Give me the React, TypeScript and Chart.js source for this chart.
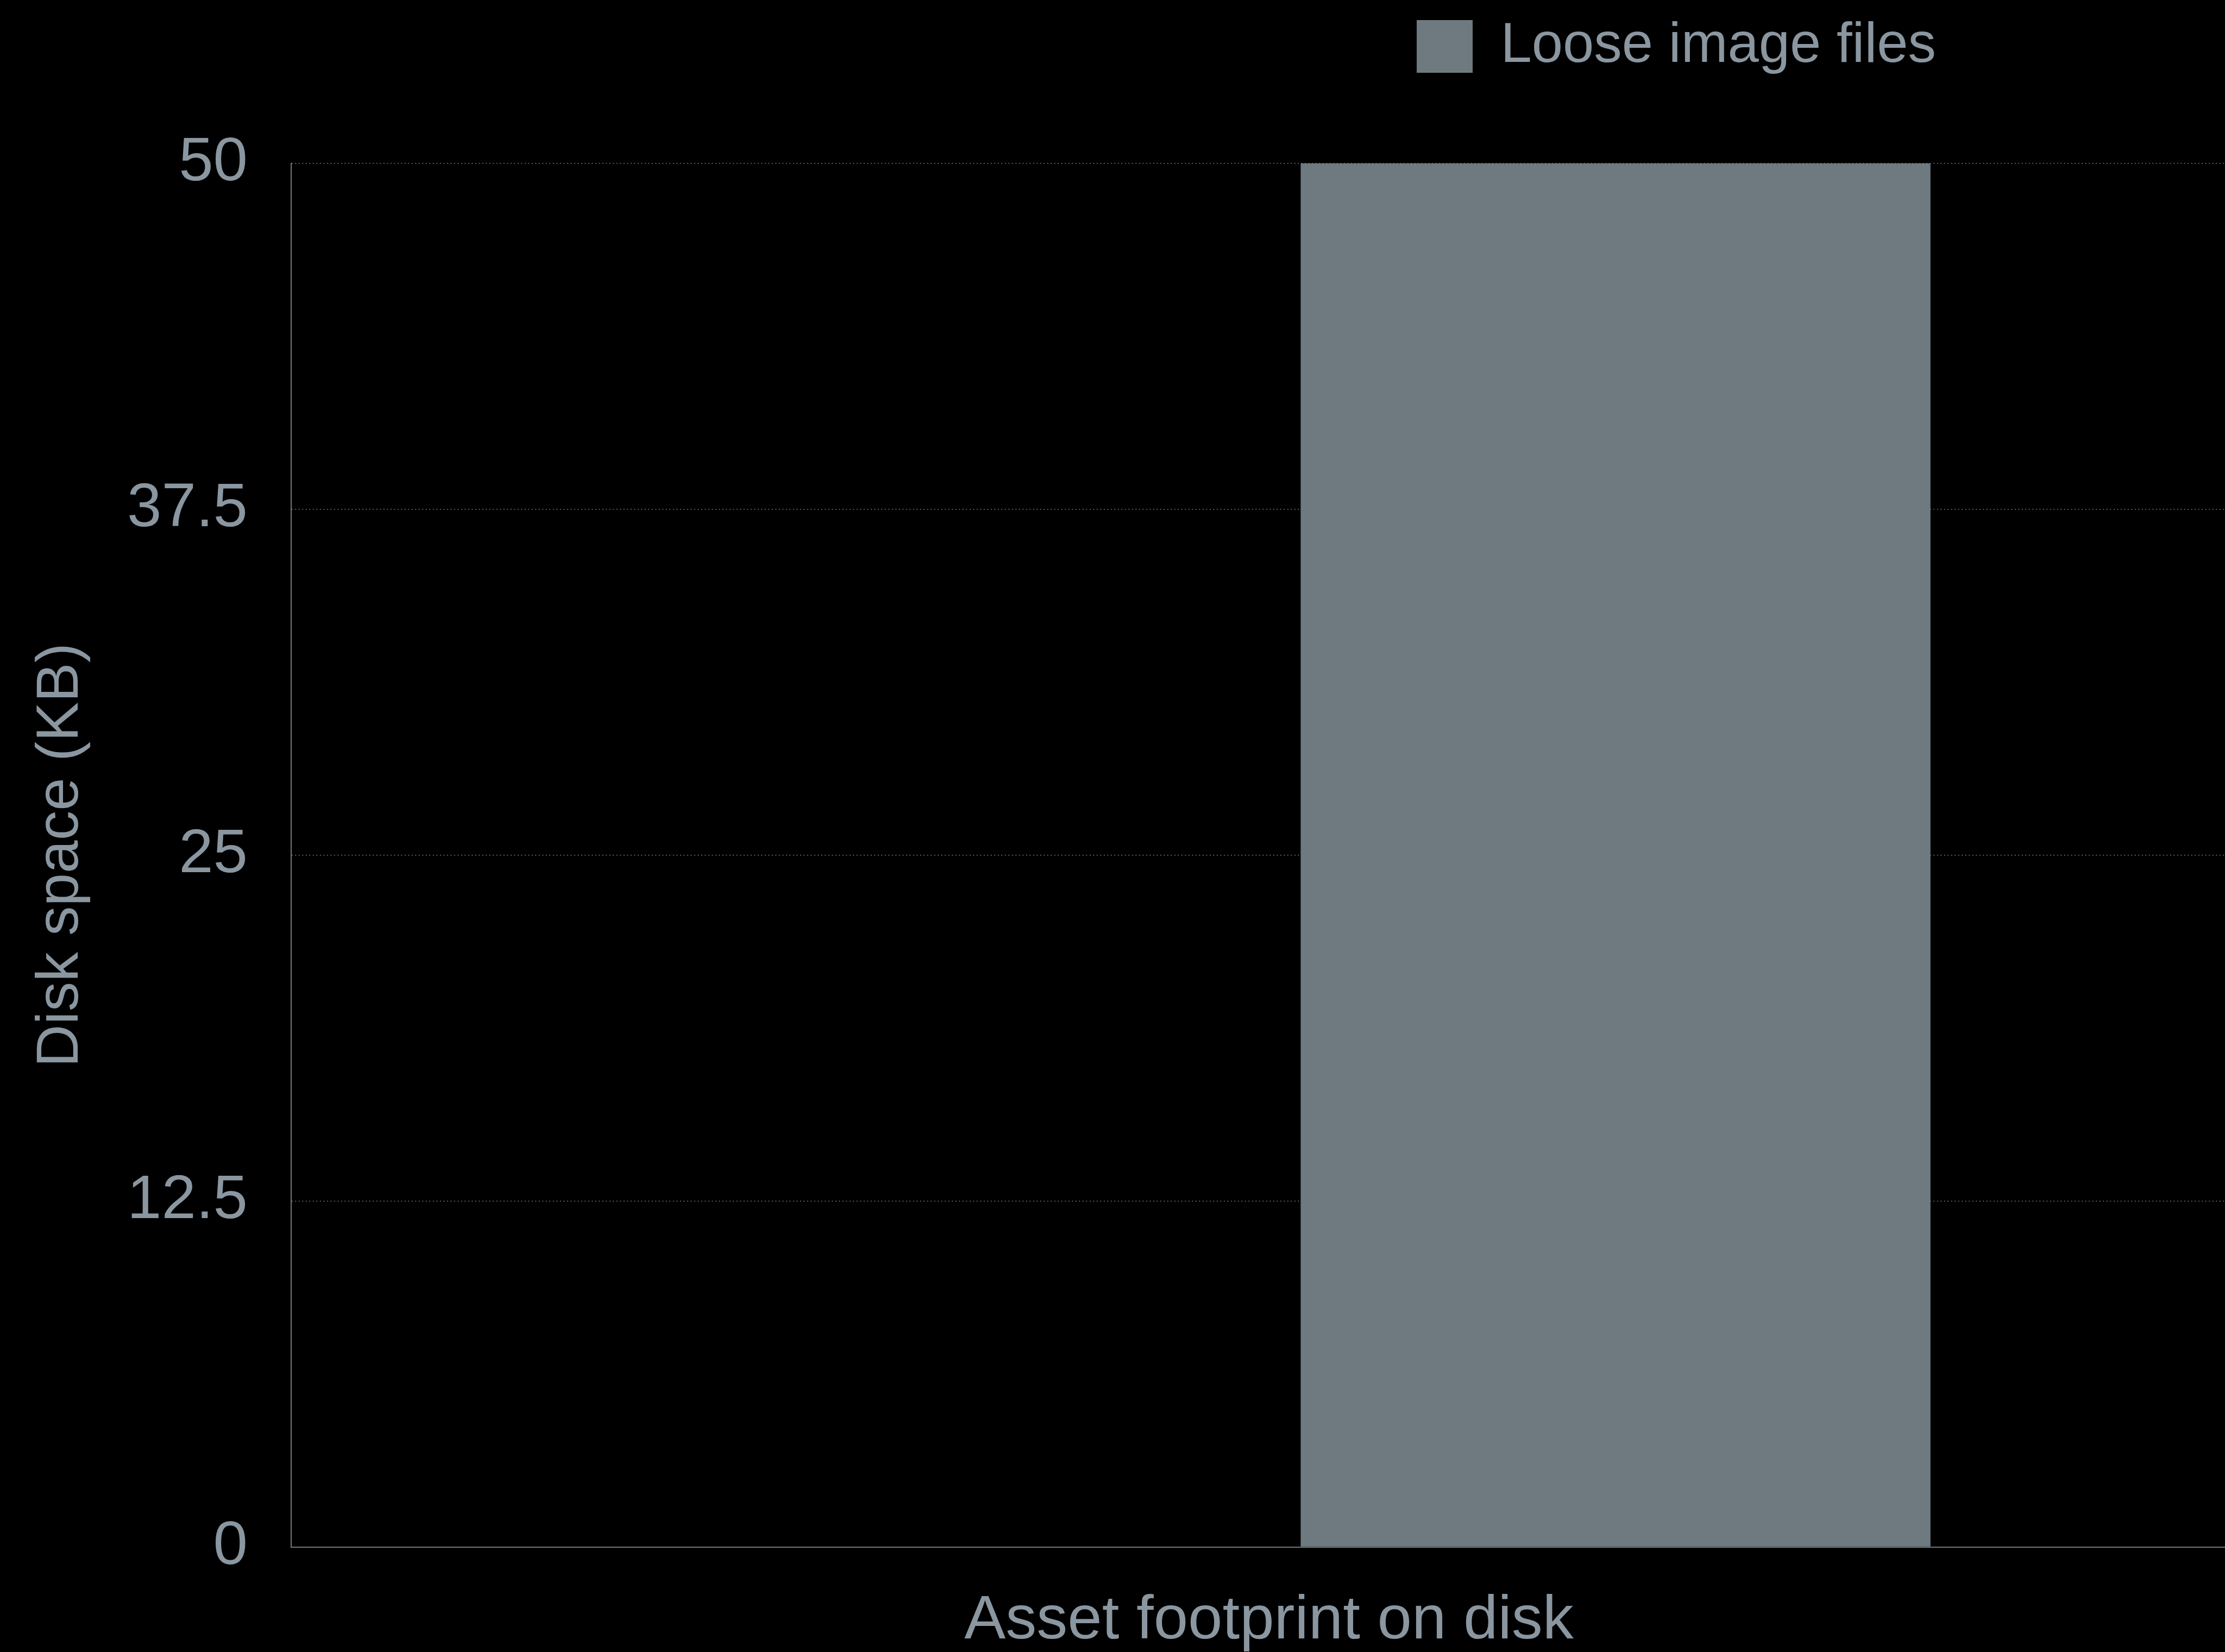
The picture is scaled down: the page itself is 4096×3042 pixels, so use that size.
import React, { useEffect, useRef } from 'react';
import { Chart, registerables } from 'chart.js';

Chart.register(...registerables);

// ---- data ----
const categories = ['Asset footprint on disk'];
const seriesNames = ['', 'Loose image files'];
const emptySlotValues: (number | null)[] = [null];
const looseImageValues: number[] = [50];
const yTickValues: number[] = [0, 12.5, 25, 37.5, 50];
const yAxisTitle = 'Disk space (KB)';
const xAxisTitle = 'Asset footprint on disk';

// ---- layout / style ----
const CANVAS_W = 4140;
const CANVAS_H = 3080;
const CHART_TOP = 300.6;
const Y_AXIS_W = 536;
const X_AXIS_H = CANVAS_H - 2848.6;
const LEGEND_PAD = 34;
const LEGEND_BOX_LEFT = 2608;

const FONT = "'Liberation Sans', Arial, Helvetica, sans-serif";
const TEXT = '#8a96a0';
const BAR = '#6f7a80';
const AXIS = '#6e787e';
const GRID = '#8a949c';

const legendPlacement = {
  id: 'legendPlacement',
  beforeInit(chart: any) {
    const legend = chart.legend;
    if (!legend) return;
    const fit = legend.fit;
    legend.fit = function () {
      fit.call(this);
      this.height = CHART_TOP;
    };
  },
  afterLayout(chart: any) {
    const legend = chart.legend;
    if (legend) legend.left = LEGEND_BOX_LEFT - LEGEND_PAD;
  },
};

export default function App() {
  const ref = useRef<HTMLCanvasElement | null>(null);

  useEffect(() => {
    if (!ref.current) return;
    const chart = new Chart(ref.current, {
      type: 'bar',
      data: {
        labels: categories,
        datasets: [
          {
            label: seriesNames[0],
            data: emptySlotValues,
            backgroundColor: BAR,
            borderWidth: 0,
          },
          {
            label: seriesNames[1],
            data: looseImageValues,
            backgroundColor: BAR,
            borderWidth: 0,
          },
        ],
      },
      plugins: [legendPlacement],
      options: {
        responsive: false,
        animation: false,
        devicePixelRatio: 1,
        layout: { padding: { top: 0, left: 0, right: 4, bottom: 0 } },
        datasets: {
          bar: { categoryPercentage: 0.709, barPercentage: 0.9085 },
        },
        plugins: {
          tooltip: { enabled: false },
          legend: {
            display: true,
            position: 'top',
            align: 'start',
            labels: {
              color: TEXT,
              boxWidth: 103,
              boxHeight: 97,
              padding: LEGEND_PAD,
              font: { family: FONT, size: 103 },
              filter: (item: any) => item.text !== '',
            },
          },
        },
        scales: {
          x: {
            type: 'category',
            grid: { display: false, drawTicks: false },
            border: { display: true, color: AXIS, width: 2 },
            ticks: { display: false },
            title: {
              display: true,
              text: xAxisTitle,
              color: TEXT,
              font: { family: FONT, size: 114 },
              padding: { top: 0, bottom: 26 },
            },
            afterFit: (scale: any) => {
              scale.height = X_AXIS_H;
            },
          },
          y: {
            type: 'linear',
            min: yTickValues[0],
            max: yTickValues[yTickValues.length - 1],
            afterBuildTicks: (scale: any) => {
              scale.ticks = yTickValues.map((v) => ({ value: v }));
            },
            grid: { color: GRID, lineWidth: 1.6, drawTicks: false },
            border: { display: true, color: AXIS, width: 2, dash: [1.6, 4.9] },
            ticks: {
              color: TEXT,
              padding: 80,
              font: { family: FONT, size: 114 },
              callback: (v: any) => String(v),
            },
            title: {
              display: true,
              text: yAxisTitle,
              color: TEXT,
              font: { family: FONT, size: 109 },
              padding: { top: 47.5, bottom: 0 },
            },
            afterFit: (scale: any) => {
              scale.width = Y_AXIS_W;
            },
          },
        },
      },
    } as any);
    return () => chart.destroy();
  }, []);

  return (
    <div
      style={{
        position: 'fixed',
        left: 0,
        top: 0,
        width: '100vw',
        height: '100vh',
        overflow: 'hidden',
        background: '#000',
      }}
    >
      <canvas
        ref={ref}
        width={CANVAS_W}
        height={CANVAS_H}
        style={{ display: 'block', width: CANVAS_W, height: CANVAS_H }}
      />
    </div>
  );
}
